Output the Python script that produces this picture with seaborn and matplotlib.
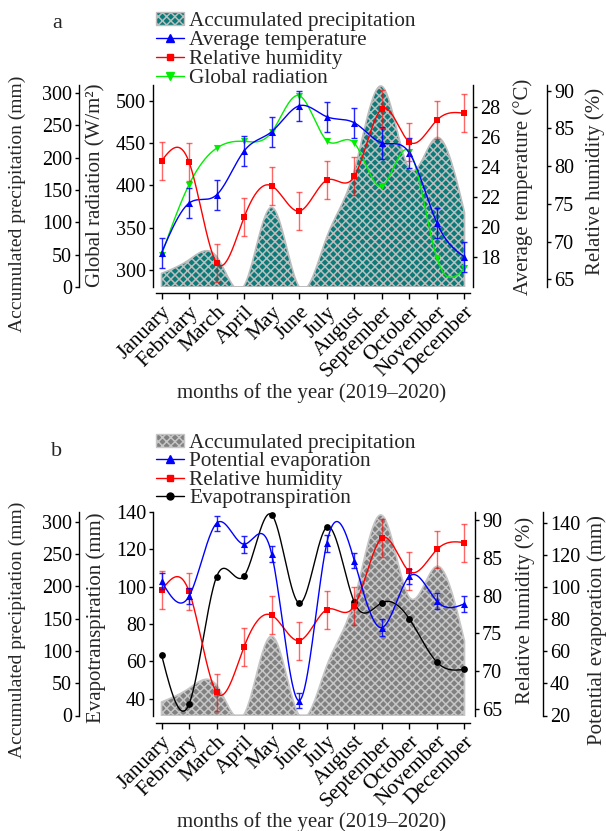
import numpy as np
import pandas as pd
import matplotlib
matplotlib.use("Agg")
import matplotlib.pyplot as plt
import seaborn as sns
from matplotlib.patches import Patch
from matplotlib.lines import Line2D

# ---------------- data ----------------
months = ["January", "February", "March", "April", "May", "June", "July",
          "August", "September", "October", "November", "December"]
precipitation = [21, 42, 47, 2, 123, 0, 77, 180, 310, 183, 231, 115]
global_radiation = [318, 401, 444, 452, 463, 506, 453, 450, 399, 440, 314, 302]
avg_temperature = [18.3, 21.6, 22.15, 25.07, 26.35, 28.07, 27.34, 26.94, 25.6, 24.93, 20.28, 18.03]
temperature_err = [1.0, 1.0, 1.0, 1.0, 1.0, 1.0, 1.0, 1.0, 1.05, 1.0, 1.0, 1.0]
humidity = [80.7, 80.55, 67.2, 73.25, 77.4, 74.05, 78.15, 78.65, 87.6, 83.2, 86.1, 87.0]
humidity_err = [2.5, 2.5, 2.5, 2.5, 2.5, 2.5, 2.5, 2.5, 2.5, 2.5, 2.5, 2.5]
evapotranspiration = [63.5, 37, 105.4, 105.8, 138.6, 91.2, 132, 91.7, 91.4, 82.7, 59.5, 55.7]
potential_evap = [103.5, 94.2, 139.6, 126.6, 120.4, 29.3, 127.2, 116.3, 74.7, 106.6, 91.1, 89.5]
potential_evap_err = [5, 5, 4.6, 5.2, 4.8, 4.9, 5.2, 4.6, 5.2, 4.6, 4.9, 5.0]

# ---------------- style ----------------
sns.set_theme(style="ticks")
plt.rcParams["font.family"] = ["Liberation Serif", "DejaVu Serif"]
plt.rcParams["hatch.linewidth"] = 1.1
plt.rcParams["axes.linewidth"] = 1.0

W, H = 606, 831
fig = plt.figure(figsize=(W / 100, H / 100), dpi=100)

TICK_FS = 14.5
LAB_FS = 15
MON_FS = 15.5
PT = 0.72  # points per pixel at dpi 100

BLUE = "#0000ff"
RED = "#ff0000"
GREEN = "#00ee00"
BLACK = "#000000"

x = np.arange(len(months))


def natural_spline(xv, yv, n=600):
    xv = np.asarray(xv, float)
    yv = np.asarray(yv, float)
    m = len(xv)
    h = np.diff(xv)
    A = np.zeros((m, m))
    r = np.zeros(m)
    A[0, 0] = 1
    A[-1, -1] = 1
    for i in range(1, m - 1):
        A[i, i - 1] = h[i - 1]
        A[i, i] = 2 * (h[i - 1] + h[i])
        A[i, i + 1] = h[i]
        r[i] = 3 * ((yv[i + 1] - yv[i]) / h[i] - (yv[i] - yv[i - 1]) / h[i - 1])
    c = np.linalg.solve(A, r)
    b = (yv[1:] - yv[:-1]) / h - h * (2 * c[:-1] + c[1:]) / 3
    d = (c[1:] - c[:-1]) / (3 * h)
    xs = np.linspace(xv[0], xv[-1], n)
    idx = np.clip(np.searchsorted(xv, xs) - 1, 0, m - 2)
    dx = xs - xv[idx]
    ys = yv[idx] + b[idx] * dx + c[idx] * dx ** 2 + d[idx] * dx ** 3
    return xs, ys


def rect(top, bottom, left=156, right=470):
    return [left / W, 1 - bottom / H, (right - left) / W, (bottom - top) / H]


def style_y(ax, side, offset_px, lim, ticks):
    ax.set_ylim(*lim)
    ax.set_yticks(ticks)
    for s in ["top", "bottom", "left", "right"]:
        ax.spines[s].set_visible(False)
    ax.spines[side].set_visible(True)
    ax.spines[side].set_position(("outward", offset_px * PT))
    ax.spines[side].set_color("black")
    ax.yaxis.set_ticks_position(side)
    ax.tick_params(axis="y", which="both", direction="out", length=3, width=1,
                   labelsize=TICK_FS, pad=2, colors="black")
    ax.set_ylabel("")
    ax.set_xlabel("")


def draw_series(ax, yv, color, marker, msize, err=None, ecolor=None, ealpha=1.0):
    xs, ys = natural_spline(x, yv)
    sns.lineplot(data=pd.DataFrame({"x": xs, "y": ys}), x="x", y="y", ax=ax,
                 color=color, linewidth=1.0, sort=False, estimator=None)
    if err is not None:
        ax.errorbar(x, yv, yerr=err, fmt="none", ecolor=ecolor, elinewidth=1.0,
                    capsize=2.5, capthick=1.0, alpha=ealpha)
    sns.scatterplot(data=pd.DataFrame({"x": x, "y": yv}), x="x", y="y", ax=ax,
                    color=color, marker=marker, s=msize, linewidth=0, zorder=5)
    ax.set_xlabel("")
    ax.set_ylabel("")


def draw_precip(ax, face, hatch_col):
    xs, ys = natural_spline(x, precipitation)
    ax.fill_between(xs, 0, np.clip(ys, 0, None), facecolor=face,
                    edgecolor=hatch_col, hatch="xxxx", linewidth=1.2, zorder=1)


def setup_host(ax, bottom_off_px):
    ax.set_xlim(-0.2, 11.2)
    ax.spines["bottom"].set_position(("outward", bottom_off_px * PT))
    ax.spines["bottom"].set_color("black")
    ax.patch.set_alpha(0)


def finish_xaxis(ax):
    ax.set_xlim(-0.2, 11.2)
    ax.spines["bottom"].set_visible(True)
    ax.set_xticks(x)
    ax.set_xticklabels(months)
    ax.tick_params(axis="x", bottom=True, labelbottom=True, direction="out",
                   length=4, width=1, pad=3, colors="black",
                   labelrotation=45, labelsize=MON_FS)
    for lbl in ax.get_xticklabels():
        lbl.set_rotation(45)
        lbl.set_ha("right")
        lbl.set_va("top")
        lbl.set_rotation_mode("anchor")
        lbl.set_fontsize(MON_FS)


def twin(host):
    t = host.twinx()
    t.patch.set_alpha(0)
    t.tick_params(axis="x", bottom=False, labelbottom=False)
    return t


def ftext(px, py, s, rot=0, fs=LAB_FS):
    fig.text(px / W, 1 - py / H, s, rotation=rot, ha="center", va="center", fontsize=fs)


# ================= Panel a =================
A_TOP, A_BOT = 85, 287
hostA = fig.add_axes(rect(A_TOP, A_BOT))
draw_precip(hostA, "#0a7b78", "#bdbdbd")
setup_host(hostA, 6)
style_y(hostA, "left", 77, (0, 312), np.arange(0, 301, 50))

axG = twin(hostA)
draw_series(axG, global_radiation, GREEN, "v", 26)
style_y(axG, "left", 3, (280, 518.6), np.arange(300, 501, 50))

axT = twin(hostA)
draw_series(axT, avg_temperature, BLUE, "^", 26, temperature_err, BLUE, 0.85)
style_y(axT, "right", 3, (16.03, 29.45), np.arange(18, 29, 2))

axH = twin(hostA)
draw_series(axH, humidity, RED, "s", 22, humidity_err, RED, 0.6)
style_y(axH, "right", 77, (64.0, 90.75), np.arange(65, 91, 5))

finish_xaxis(hostA)

ftext(17, 204, "Accumulated precipitation (mm)", 90, fs=14)
ftext(96, 185, "Global radiation (W/m²)", 90)
ftext(523, 187, "Average temperature (°C)", 90)
ftext(595, 181, "Relative humidity (%)", 90)
ftext(312, 393, "months of the year (2019–2020)")
ftext(57, 24, "a", fs=16)

legA = [
    Patch(facecolor="#0a7b78", edgecolor="#bdbdbd", hatch="xxxx", linewidth=1.0,
          label="Accumulated precipitation"),
    Line2D([], [], color=BLUE, marker="^", markersize=5.5, lw=1, label="Average temperature"),
    Line2D([], [], color=RED, marker="s", markersize=5, lw=1, label="Relative humidity"),
    Line2D([], [], color=GREEN, marker="v", markersize=5.5, lw=1, label="Global radiation"),
]
fig.legend(handles=legA, loc="upper left", bbox_to_anchor=(156 / W, 1 - 12 / H),
           frameon=False, fontsize=15.3, handlelength=1.32, handletextpad=0.25,
           handleheight=0.55, labelspacing=0.0, borderpad=0, borderaxespad=0,
           numpoints=1)

# ================= Panel b =================
B_TOP, B_BOT = 512, 715.5
hostB = fig.add_axes(rect(B_TOP, B_BOT))
draw_precip(hostB, "#808080", "#c6c6c6")
setup_host(hostB, 7)
style_y(hostB, "left", 77, (0, 315), np.arange(0, 301, 50))

axE = twin(hostB)
draw_series(axE, evapotranspiration, BLACK, "o", 24)
style_y(axE, "left", 3, (30.9, 140.1), np.arange(40, 141, 20))

axHb = twin(hostB)
draw_series(axHb, humidity, RED, "s", 22, humidity_err, RED, 0.6)
style_y(axHb, "right", 5, (64.15, 91.05), np.arange(65, 91, 5))

axP = twin(hostB)
draw_series(axP, potential_evap, BLUE, "^", 26, potential_evap_err, BLUE, 0.85)
style_y(axP, "right", 73, (20, 146.6), np.arange(20, 141, 20))

finish_xaxis(hostB)

ftext(17, 630, "Accumulated precipitation (mm)", 90, fs=14)
ftext(96, 618, "Evapotranspiration (mm)", 90)
ftext(525, 610, "Relative humidity (%)", 90)
ftext(597, 630, "Potential evaporation (mm)", 90)
ftext(312, 822, "months of the year (2019–2020)")
ftext(57, 451, "b", fs=16)

legB = [
    Patch(facecolor="#808080", edgecolor="#c6c6c6", hatch="xxxx", linewidth=1.0,
          label="Accumulated precipitation"),
    Line2D([], [], color=BLUE, marker="^", markersize=5.5, lw=1, label="Potential evaporation"),
    Line2D([], [], color=RED, marker="s", markersize=5, lw=1, label="Relative humidity"),
    Line2D([], [], color=BLACK, marker="o", markersize=5, lw=1, label="Evapotranspiration"),
]
fig.legend(handles=legB, loc="upper left", bbox_to_anchor=(156 / W, 1 - 434 / H),
           frameon=False, fontsize=15.3, handlelength=1.32, handletextpad=0.25,
           handleheight=0.55, labelspacing=-0.03, borderpad=0, borderaxespad=0,
           numpoints=1)

fig.savefig("out.png", dpi=100)
